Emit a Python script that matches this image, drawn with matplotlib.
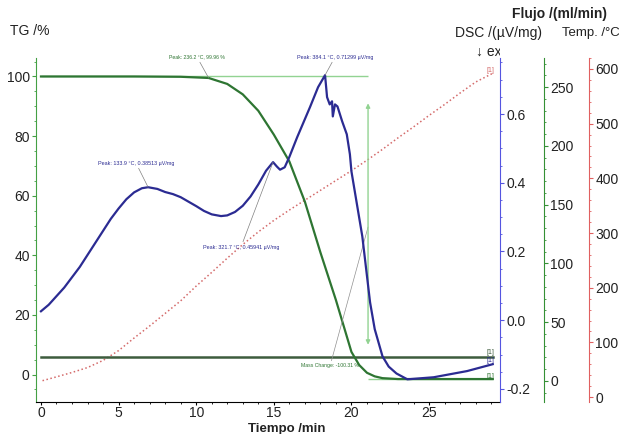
import matplotlib.pyplot as plt
from matplotlib.ticker import MultipleLocator
from matplotlib.transforms import Bbox, TransformedBbox

plt.rcParams['font.family'] = ['Liberation Sans', 'DejaVu Sans']

# TG /% vs tiempo (min)
t_tg = [0, 3, 6, 9, 10.8, 12, 13, 14, 15, 16, 17, 18, 19, 20, 20.5, 21, 21.5, 22, 23, 25, 27, 29.1]
tg = [100, 100, 100, 99.9, 99.5, 97.5, 94, 88.5, 80.5, 71.5, 58, 41, 25, 7.6, 3.2, 0.6, -0.6, -1.2, -1.5, -1.5, -1.5, -1.5]

# DSC /(uV/mg)
t_dsc = [0, 0.5, 1, 1.5, 2, 2.5, 3, 3.5, 4, 4.5, 5, 5.5, 6, 6.5, 6.9, 7.5, 8, 8.5, 9, 9.5,
         10, 10.5, 11, 11.6, 12, 12.5, 13, 13.5, 14, 14.5, 14.95, 15.2, 15.4, 15.7, 16,
         16.5, 17.33, 17.85, 18.3, 18.43, 18.6, 18.75, 18.8, 18.94, 19.1, 19.4, 19.7, 19.9,
         20.0, 20.7, 21.2, 21.5, 22.0, 22.4, 22.9, 23.6, 25.3, 27.45, 29.1]
dsc = [0.026, 0.045, 0.07, 0.095, 0.125, 0.155, 0.19, 0.225, 0.26, 0.295, 0.325, 0.352,
       0.372, 0.384, 0.387, 0.382, 0.373, 0.367, 0.358, 0.345, 0.332, 0.318, 0.308, 0.303,
       0.305, 0.315, 0.333, 0.36, 0.395, 0.435, 0.46, 0.447, 0.438, 0.445, 0.475, 0.532,
       0.62, 0.678, 0.713, 0.649, 0.628, 0.637, 0.593, 0.628, 0.622, 0.579, 0.541, 0.483,
       0.433, 0.244, 0.052, -0.026, -0.105, -0.135, -0.155, -0.172, -0.166, -0.148, -0.128]

# Temperatura /°C
t_temp = [0.1, 1, 2, 3, 4, 5, 6, 7, 8, 9, 10, 11, 12, 13, 14, 15, 16, 17, 18, 19, 20, 21,
          22, 23, 24, 25, 26, 27, 28, 29.1]
temp = [30, 37, 45, 54, 67, 85, 108, 130, 153, 176, 203, 228, 254, 279, 302, 323, 342, 360,
        378, 396, 414, 433, 453, 474, 494, 515, 535, 556, 576, 592]

# Flujo /(ml/min)
t_flujo = [0, 29.1]
flujo = [20, 20]

# cambio de masa
t_masa = 21.07
masa_ini = 100
masa_fin = -1.6

c_tg = '#2e7532'
c_ref = '#92d392'
c_dsc = '#2b2b92'
c_temp = '#d46a6a'
c_flujo = '#3d5c3d'
c_txt = '#222222'

fig = plt.figure(figsize=(6.19, 4.34), dpi=100)
ax = fig.add_axes([36/619, 1-402/434, 464/619, 344/434])
ax_temp = ax.twinx()
ax_flujo = ax.twinx()
ax_dsc = ax.twinx()

ax.set_zorder(3)
ax.patch.set_visible(False)
ax_dsc.set_zorder(4)

ax_temp.plot(t_temp, temp, color=c_temp, linestyle=':', linewidth=1.1)
ax_flujo.plot(t_flujo, flujo, color=c_flujo, linewidth=1.8)
ax.hlines(masa_ini, 0, t_masa, color=c_ref, linewidth=1)
ax.hlines(masa_fin, t_masa, t_flujo[-1], color=c_ref, linewidth=1)
ax.plot(t_tg, tg, color=c_tg, linewidth=1.6)
ax_dsc.plot(t_dsc, dsc, color=c_dsc, linewidth=1.6)

ax.set_xlim(-0.32, 29.57)
ax.set_ylim(-9.2, 106.2)
ax_dsc.set_ylim(-0.238, 0.763)
ax_flujo.set_ylim(-17.9, 274.7)
ax_temp.set_ylim(-9, 620)

ax.spines[['top', 'right']].set_visible(False)
ax.spines['left'].set_color('#44a044')
for a in (ax_dsc, ax_flujo, ax_temp):
    a.spines[['left', 'top', 'bottom']].set_visible(False)
ax_dsc.spines['right'].set_color('#5555e0')
ax_flujo.spines['right'].set_position(('axes', 1.095))
ax_flujo.spines['right'].set_color('#359035')
ax_temp.spines['right'].set_position(('axes', 1.192))
ax_temp.spines['right'].set_color('#e06060')

ax.xaxis.set_major_locator(MultipleLocator(5))
ax.xaxis.set_minor_locator(MultipleLocator(1))
ax.yaxis.set_major_locator(MultipleLocator(20))
ax.yaxis.set_minor_locator(MultipleLocator(5))
ax_dsc.yaxis.set_major_locator(MultipleLocator(0.2))
ax_dsc.yaxis.set_minor_locator(MultipleLocator(0.05))
ax_flujo.yaxis.set_major_locator(MultipleLocator(50))
ax_flujo.yaxis.set_minor_locator(MultipleLocator(10))
ax_temp.yaxis.set_major_locator(MultipleLocator(100))
ax_temp.yaxis.set_minor_locator(MultipleLocator(20))
ax_dsc.yaxis.set_major_formatter(lambda v, p: f'{v:.1f}')

for a in (ax, ax_dsc, ax_flujo, ax_temp):
    a.tick_params(which='major', length=3, width=0.8, labelsize=10, pad=1.5,
                  labelcolor=c_txt)
    a.tick_params(which='minor', length=1.5, width=0.6)
ax.tick_params(axis='x', which='major', pad=0.5, length=2.5)
ax.tick_params(axis='y', which='both', color='#44a044')
ax_dsc.tick_params(which='both', color='#5555e0')
ax_flujo.tick_params(which='both', color='#359035')
ax_temp.tick_params(which='both', color='#e06060')

# títulos de los ejes
fig.text(10/619, 1-31/434, 'TG /%', fontsize=10, va='center', color=c_txt)
fig.text(542/619, 1-33/434, 'DSC /(µV/mg)', fontsize=10, va='center', ha='right', color=c_txt)
fig.text(560/619, 1-14/434, 'Flujo /(ml/min)', fontsize=10, va='center', ha='center',
         fontweight='bold', color=c_txt)
fig.text(562/619, 1-33/434, 'Temp. /°C', fontsize=9.5, va='center', color=c_txt)
fig.text(287/619, 1-429/434, 'Tiempo /min', fontsize=9.5, va='center', ha='center',
         fontweight='bold', color=c_txt)
exo = fig.text(476/619, 1-52/434, '↓ exo', fontsize=10, va='center', color=c_txt)
exo.set_clip_box(TransformedBbox(Bbox([[0, 0], [500/619, 1]]), fig.transFigure))
exo.set_clip_on(True)

# anotaciones de picos
lp = dict(arrowstyle='-', linewidth=0.5, shrinkA=0, shrinkB=0)
ax.annotate('Peak: 236.2 °C, 99.96 %', xy=(10.8, 99.5), xytext=(197, 434-57),
            textcoords='figure pixels', fontsize=3.7, color='#2e7532', ha='center', va='center',
            arrowprops=dict(lp, color='#808080'))
ax_dsc.annotate('Peak: 384.1 °C, 0.71299 µV/mg', xy=(18.3, 0.713), xytext=(335, 434-57),
                textcoords='figure pixels', fontsize=3.9, color=c_dsc, ha='center', va='center',
                arrowprops=dict(lp, color='#808080'))
ax_dsc.annotate('Peak: 133.9 °C, 0.38513 µV/mg', xy=(6.9, 0.387), xytext=(136, 434-163),
                textcoords='figure pixels', fontsize=3.9, color=c_dsc, ha='center', va='center',
                arrowprops=dict(lp, color='#808080'))
ax_dsc.annotate('Peak: 321.7 °C, 0.45941 µV/mg', xy=(14.95, 0.46), xytext=(241, 434-247),
                textcoords='figure pixels', fontsize=3.9, color=c_dsc, ha='center', va='center',
                arrowprops=dict(lp, color='#808080'))
ax.annotate('Mass Change: -100.31 %', xy=(t_masa, 49.5), xytext=(330, 434-366),
            textcoords='figure pixels', fontsize=3.7, color='#2e7532', ha='center', va='center',
            arrowprops=dict(lp, color='#909090'))
ax.annotate('', xy=(t_masa, 91), xytext=(t_masa, 10),
            arrowprops=dict(arrowstyle='<|-|>', color=c_ref, linewidth=1,
                            mutation_scale=6, shrinkA=0, shrinkB=0))

# marcas [1] al final de cada curva
fig.text(490/619, 1-70/434, '[1]', fontsize=5, color=c_temp, ha='center', va='center')
fig.text(490/619, 1-353/434, '[1]', fontsize=5, color=c_flujo, ha='center', va='center')
fig.text(490/619, 1-360/434, '[1]', fontsize=5, color=c_dsc, ha='center', va='center')
fig.text(490/619, 1-376/434, '[1]', fontsize=5, color=c_tg, ha='center', va='center')

fig.savefig('out.png', dpi=100)
